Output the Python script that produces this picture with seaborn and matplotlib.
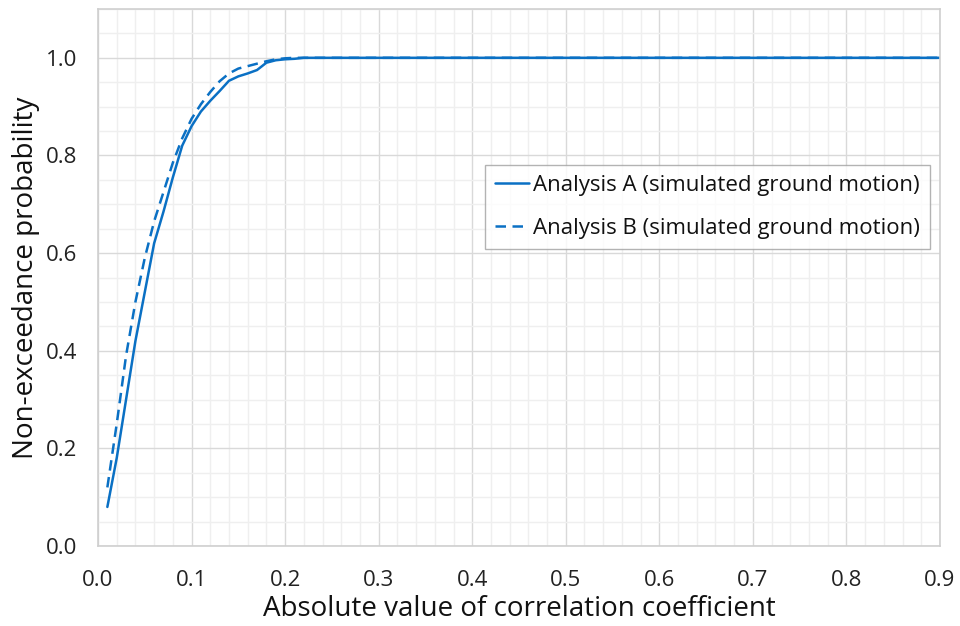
import matplotlib
matplotlib.use("Agg")
import matplotlib.pyplot as plt
import seaborn as sns
import pandas as pd
from matplotlib.ticker import MultipleLocator, FormatStrFormatter

# ---- data ----
corr_x = [0.01, 0.02, 0.03, 0.04, 0.05, 0.06, 0.07, 0.08, 0.09, 0.10,
          0.11, 0.12, 0.13, 0.14, 0.15, 0.16, 0.17, 0.18, 0.19, 0.20,
          0.21, 0.22, 0.23, 0.24, 0.90]
analysis_a = [0.08, 0.18, 0.30, 0.42, 0.52, 0.62, 0.685, 0.755, 0.82, 0.86,
              0.89, 0.912, 0.932, 0.953, 0.962, 0.968, 0.975, 0.99, 0.995, 0.997,
              0.998, 1.0, 1.0, 1.0, 1.0]
analysis_b = [0.12, 0.25, 0.39, 0.50, 0.59, 0.665, 0.725, 0.785, 0.835, 0.875,
              0.905, 0.93, 0.952, 0.968, 0.978, 0.983, 0.988, 0.993, 0.997, 0.999,
              1.0, 1.0, 1.0, 1.0, 1.0]
label_a = "Analysis A (simulated ground motion)"
label_b = "Analysis B (simulated ground motion)"
x_label = "Absolute value of correlation coefficient"
y_label = "Non-exceedance probability"

df = pd.DataFrame({
    "x": corr_x * 2,
    "y": analysis_a + analysis_b,
    "series": [label_a] * len(corr_x) + [label_b] * len(corr_x),
})

sns.set_theme(style="white")
plt.rcParams["font.family"] = ["Open Sans", "DejaVu Sans"]

fig = plt.figure(figsize=(9.6, 6.26), dpi=100)
ax = fig.add_axes([98 / 960, 1 - 546 / 626, (940 - 98) / 960, (546 - 9) / 626])

blue = "#0A70C4"
sns.lineplot(data=df, x="x", y="y", hue="series", style="series",
             palette=[blue, blue], dashes=[(None, None), (4.2, 2.6)],
             linewidth=1.8, ax=ax, legend=True)

ax.set_xlim(0, 0.9)
ax.set_ylim(0, 1.1)
ax.xaxis.set_major_locator(MultipleLocator(0.1))
ax.xaxis.set_minor_locator(MultipleLocator(0.02))
ax.yaxis.set_major_locator(MultipleLocator(0.2))
ax.yaxis.set_minor_locator(MultipleLocator(0.05))
ax.xaxis.set_major_formatter(FormatStrFormatter("%.1f"))
ax.yaxis.set_major_formatter(FormatStrFormatter("%.1f"))
ax.set_yticks([0, 0.2, 0.4, 0.6, 0.8, 1.0])

ax.grid(which="major", color="#D9D9D9", linewidth=1.0)
ax.grid(which="minor", color="#EFEFEF", linewidth=1.0)
ax.set_axisbelow(True)
for s in ax.spines.values():
    s.set_color("#CFCFCF")
    s.set_linewidth(1.2)

ax.tick_params(axis="both", which="both", length=0, labelsize=16, colors="#222222")
ax.tick_params(axis="x", pad=17)
ax.tick_params(axis="y", pad=15)
ax.set_xlabel(x_label, fontsize=20, color="#111111", labelpad=3)
ax.set_ylabel(y_label, fontsize=20, color="#111111", labelpad=4)

leg = ax.legend(loc="upper right", bbox_to_anchor=(0.988, 0.71), fontsize=16,
                frameon=True, fancybox=False, handlelength=1.5, handletextpad=0.2,
                borderpad=0.45, labelspacing=1.0, borderaxespad=0)
leg.get_frame().set_edgecolor("#A0A0A0")
leg.get_frame().set_linewidth(1.0)
for t in leg.get_texts():
    t.set_color("#111111")

fig.savefig("out.png", dpi=100)
